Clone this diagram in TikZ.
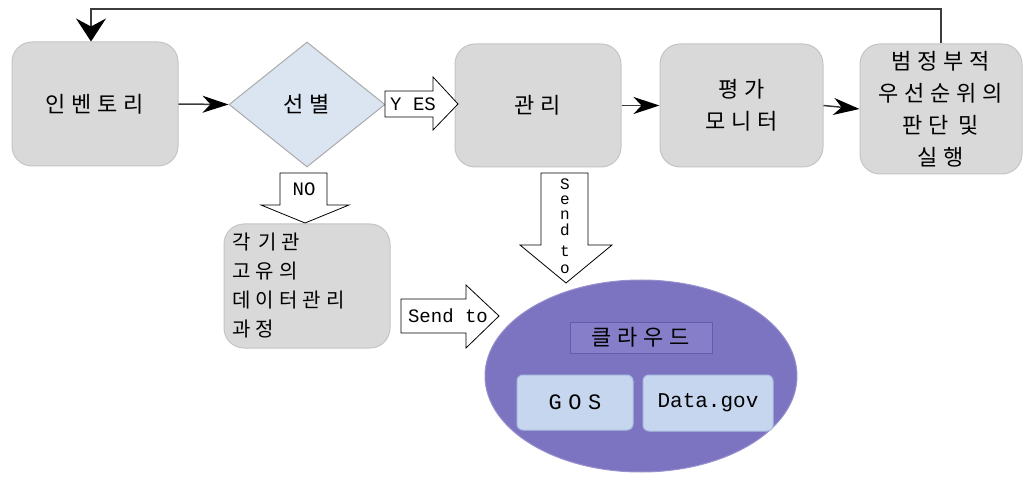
\documentclass[tikz,border=0pt]{standalone}
\usepackage{fontspec}
\setmainfont{Liberation Mono}
\newfontfamily\kr[LetterSpace=26]{Noto Sans CJK KR}
\newfontfamily\lat{Liberation Mono}
\newfontfamily\latsp[LetterSpace=30]{Liberation Mono}
\usetikzlibrary{shapes.geometric,arrows.meta}
\definecolor{gfill}{RGB}{217,217,217}
\definecolor{gborder}{RGB}{196,196,196}
\definecolor{dfill}{RGB}{219,229,241}
\definecolor{dborder}{RGB}{170,170,170}
\definecolor{cloudfill}{RGB}{124,116,192}
\definecolor{cloudborder}{RGB}{150,144,205}
\definecolor{labfill}{RGB}{134,126,200}
\definecolor{labborder}{RGB}{100,92,170}
\definecolor{bfill}{RGB}{198,214,238}
\definecolor{bborder}{RGB}{170,190,225}
\definecolor{linec}{RGB}{60,60,60}
\begin{document}
\begin{tikzpicture}[x=1pt,y=-1pt,
  gbox/.style={draw=gborder, fill=gfill, rounded corners=20pt, line width=1pt,
    font=\kr\fontsize{22pt}{32pt}\selectfont, align=center, inner sep=0pt},
  decbox/.style={draw=dborder, fill=dfill, diamond, line width=1pt, inner sep=0pt,
    font=\kr\fontsize{22pt}{32pt}\selectfont},
  conn/.style={line width=1.5pt, draw=linec, -{Stealth[length=26pt,width=17pt,inset=8pt,color=black]}},
  barrow/.style={draw=black, fill=white, line width=0.8pt},
  btext/.style={font=\lat\fontsize{19pt}{19pt}\selectfont, inner sep=0pt},
  vtext/.style={font=\lat\fontsize{16pt}{16pt}\selectfont, inner sep=0pt},
  inbox/.style={draw=bborder, fill=bfill, rounded corners=6pt, line width=1pt, inner sep=0pt}
]
\useasboundingbox (0,0) rectangle (1026,481);

% main nodes
\node[gbox, minimum width=166pt, minimum height=124pt] (inv) at (95,104) {인벤토리};
\node[decbox, minimum width=156pt, minimum height=125pt] (sel) at (307,104.5) {선별};
\node[gbox, minimum width=166pt, minimum height=123pt] (mgmt) at (538,105.5) {관리};
\node[gbox, minimum width=163pt, minimum height=123pt] (eval) at (741.5,105.5) {평가\\모니터};
\node[gbox, minimum width=162pt, minimum height=130pt] (dec) at (941,109) {범정부적\\우선순위의\\판단\hspace{10pt}및\\실행};
\node[gbox, minimum width=166pt, minimum height=124pt, text width=150pt, align=left,
  font=\kr\fontsize{20pt}{29pt}\selectfont] (org) at (307,286) {각\hspace{8pt}기관\\고유의\\데이터관리\\과정};

% cloud
\node[ellipse, draw=cloudborder, fill=cloudfill, line width=1pt,
  minimum width=312pt, minimum height=192pt, inner sep=0pt] (cloud) at (641,376) {};
\node[draw=labborder, fill=labfill, line width=1pt, minimum width=142pt, minimum height=31pt,
  inner sep=0pt, font=\kr\fontsize{22pt}{22pt}\selectfont] (cl) at (641,337.5) {클라우드};
\node[inbox, minimum width=116pt, minimum height=55pt, font=\latsp\fontsize{22pt}{22pt}\selectfont] (gos) at (575,402.5) {GOS};
\node[inbox, minimum width=130pt, minimum height=56pt, font=\lat\fontsize{21pt}{21pt}\selectfont] (dg) at (708,403) {Data.gov};

% connectors
\draw[conn] (inv.east) -- (sel.west);
\draw[conn] (mgmt.east) -- (eval.west);
\draw[conn] (eval.east) -- (dec.west);
\coordinate (fb) at (91,9);
\draw[line width=1.5pt, draw=linec, -{Stealth[length=23pt,width=30pt,inset=8pt,color=black]}]
  (dec.north) |- (fb) -- (fb |- inv.north);

% block arrows
\draw[barrow] (385,91) -- (433,91) -- (433,77) -- (458,104) -- (433,130) -- (433,117) -- (385,117) -- cycle;
\node[btext] (yes) at (413,104) {Y ES};

\draw[barrow] (280,173) -- (327,173) -- (327,205) -- (349,205) -- (305,223) -- (261,205) -- (280,205) -- cycle;
\node[btext] (no) at (304,189) {NO};

\draw[barrow] (401,299) -- (466,299) -- (466,285) -- (499,316) -- (466,348) -- (466,333) -- (401,333) -- cycle;
\node[btext] (send1) at (448,316) {Send to};

\draw[barrow] (541,173) -- (588,173) -- (588,245) -- (612,245) -- (566,283) -- (520,245) -- (541,245) -- cycle;
\node[vtext] (v1) at (565,184) {S};
\node[vtext] (v2) at (565,200) {e};
\node[vtext] (v3) at (565,215) {n};
\node[vtext] (v4) at (565,230) {d};
\node[vtext] (v5) at (565,251) {t};
\node[vtext] (v6) at (565,269) {o};
\end{tikzpicture}
\end{document}
